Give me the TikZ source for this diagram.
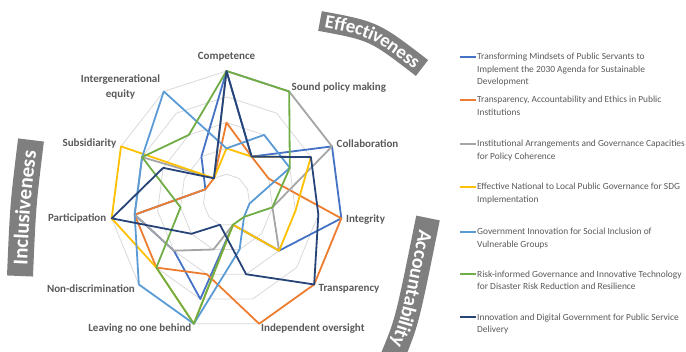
\documentclass[tikz,border=0pt]{standalone}
\usepackage{fontspec}
\setmainfont{Carlito}
\usetikzlibrary{decorations.text}
\definecolor{sA}{HTML}{4472C4}
\definecolor{sB}{HTML}{ED7D31}
\definecolor{sC}{HTML}{A5A5A5}
\definecolor{sD}{HTML}{FFC000}
\definecolor{sE}{HTML}{5B9BD5}
\definecolor{sF}{HTML}{70AD47}
\definecolor{sG}{HTML}{264478}
\definecolor{gridc}{HTML}{D9D9D9}
\definecolor{labc}{HTML}{595959}
\definecolor{bandc}{HTML}{7F7F7F}
\begin{document}
\begin{tikzpicture}[x=1pt,y=-1pt,
  series/.style={line width=1.8pt, line join=round},
  gridline/.style={draw=gridc, line width=0.8pt},
  axlab/.style={text=labc, font=\bfseries\fontsize{11}{13}\selectfont, inner sep=0pt},
  legtext/.style={text=labc, font=\fontsize{9.4}{12.7}\selectfont, align=left, anchor=north west, inner sep=0pt},
  legline/.style={line width=2pt},
  band/.style={draw=bandc}]
\useasboundingbox (0,0) rectangle (686,352);
% grid rings
\foreach \r in {1,...,5}{
  \draw[gridline] (226.5,{200-25.8*\r}) \foreach \k in {1,...,10}{ -- ({226.5+23.2*\r*sin(\k*360/11)},{200-25.8*\r*cos(\k*360/11)})} -- cycle;
}
% data points
\foreach \s/\vals in {A/{5,2,5,5,3,1,4,3,4,1,2},B/{3,2,2,5,5,5,3,4,4,1,1},C/{5,5,5,2,3,1,2,3,4,4,1},D/{2,2,4,3,3,1,5,4,5,5,1},E/{2,3,3,1,1,2,5,5,4,4,5},F/{5,5,3,2,1,1,5,4,2,4,3},G/{5,2,4,4,5,3,1,2,5,3,1}}{
  \foreach \v [count=\k from 0] in \vals {
    \coordinate (\s\k) at ({226.5+23.2*\v*sin(\k*360/11)},{200-25.8*\v*cos(\k*360/11)});
  }
}
\foreach \s in {A,B,C,D,E,F,G}{
  \draw[series, s\s] (\s0) \foreach \k in {1,...,10}{ -- (\s\k)} -- cycle;
}
% axis labels
\node[axlab] (lComp) at (226.5,57) {Competence};
\node[axlab, anchor=west] (lSound) at (291.5,87.5) {Sound policy making};
\node[axlab, anchor=west] (lColl) at (336.5,143.5) {Collaboration};
\node[axlab, anchor=west] (lIntg) at (346,219.5) {Integrity};
\node[axlab, anchor=west] (lTra) at (318.5,288.5) {Transparency};
\node[axlab, anchor=west] (lInd) at (261,328.5) {Independent oversight};
\node[axlab, anchor=east] (lLea) at (191.5,328.5) {Leaving no one behind};
\node[axlab, anchor=east] (lNon) at (135,288.5) {Non-discrimination};
\node[axlab, anchor=east] (lPar) at (106.5,219) {Participation};
\node[axlab, anchor=east] (lSub) at (116.5,144) {Subsidiarity};
\node[axlab, align=center, font=\bfseries\fontsize{11}{15}\selectfont] (lGen) at (120.5,87) {Intergenerational\\equity};
% curved bands
\draw[band, line width=20pt] (320,21) .. controls (374,31) .. (422,68);
\path[decorate, decoration={text along path, text align=center, raise=-6pt, text color=white,
  text={|\bfseries\fontsize{19}{19}\selectfont|Effectiveness}}] (320,21) .. controls (374,31) .. (422,68);
\draw[band, line width=24pt] (428,218) .. controls (407,322) .. (392,358);
\path[decorate, decoration={text along path, text align=center, raise=-6.3pt, text color=white,
  text={|\bfseries\fontsize{20}{20}\selectfont|Accountability}}] (428,218) .. controls (407,322) .. (392,358);
\draw[band, line width=26pt] (20,276) .. controls (23,205) .. (31,140);
\path[decorate, decoration={text along path, text align=center, raise=-6.8pt, text color=white,
  text={|\bfseries\fontsize{21}{21}\selectfont|Inclusiveness}}] (20,276) .. controls (23,205) .. (31,140);
% legend
\foreach \c/\y/\t [count=\i] in {
  sA/56.7/{Transforming Mindsets of Public Servants to\\Implement the 2030 Agenda for Sustainable\\Development},
  sB/100/{Transparency, Accountability and Ethics in Public\\Institutions},
  sC/144/{Institutional Arrangements and Governance Capacities\\for Policy Coherence},
  sD/186.7/{Effective National to Local Public Governance for SDG\\Implementation},
  sE/231.7/{Government Innovation for Social Inclusion of\\Vulnerable Groups},
  sF/274.3/{Risk-informed Governance and Innovative Technology\\for Disaster Risk Reduction and Resilience},
  sG/317.3/{Innovation and Digital Government for Public Service\\Delivery}}{
  \coordinate (m\i a) at (460,\y);
  \coordinate (m\i b) at (476,\y);
  \draw[legline, \c] (m\i a) -- (m\i b);
  \node[legtext] (leg\i) at (477,\y-4) {\t};
}
\end{tikzpicture}
\end{document}
